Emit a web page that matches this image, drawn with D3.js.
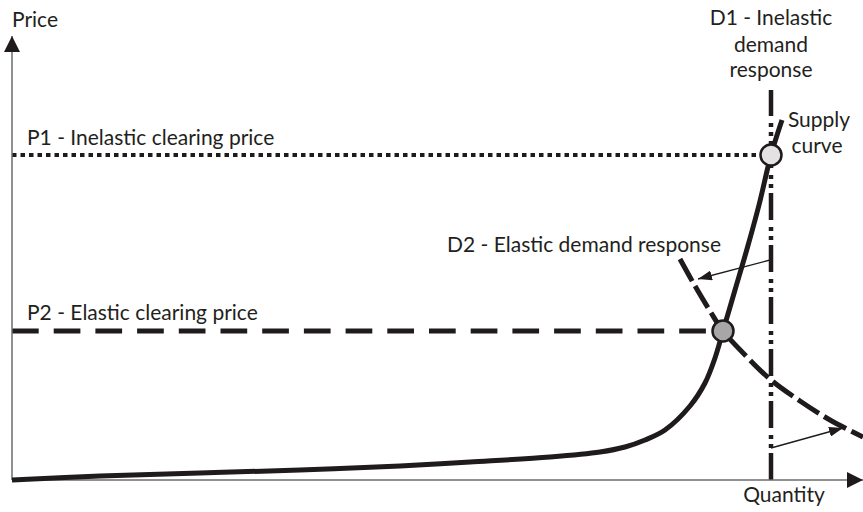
<!DOCTYPE html>
<html><head><meta charset="utf-8">
<script src="https://cdn.jsdelivr.net/npm/d3@7"></script>
<style>
body{margin:0;background:#fff}
svg{display:block}
text{font-family:Lato,"Open Sans",sans-serif;fill:#231f20}
</style>
</head><body>
<svg id="c" width="863" height="512"></svg>
<script>
// ---- data (arbitrary quantity / price units) ----
const quantityDomain = [0, 851];
const priceDomain = [0, 444];
const supplyQ = [0, 88, 188, 288, 388, 458, 538, 588, 613, 633, 653, 678, 693, 703, 711, 723, 735, 747, 759, 770];
const supplyP = [0, 4, 7, 10, 14, 18, 23, 28, 33, 40, 50, 74, 97, 122, 149, 190, 231, 275, 325, 360];
const elasticQ = [668, 683, 698, 711, 735, 759, 788, 818, 851];
const elasticP = [221, 194, 169, 149, 123, 100, 79, 60, 43];
const inelasticQ = [759, 759];
const inelasticP = [0, 390];
const clearingQ = [759, 711];   // P1, P2
const clearingP = [325, 149];   // P1, P2
const shiftFromQ = [758, 759];
const shiftFromP = [220, 32];
const shiftToQ = [686, 831];
const shiftToP = [201, 52];
const labels = ["Price", "Quantity", "P1 - Inelastic clearing price", "P2 - Elastic clearing price",
  "D2 - Elastic demand response", "D1 - Inelastic", "demand", "response", "Supply", "curve"];

// ---- drawing ----
const svg = d3.select("#c");
const x = d3.scaleLinear().domain(quantityDomain).range([12, 863]);
const y = d3.scaleLinear().domain(priceDomain).range([480, 36]);
const ink = "#1f1b1c";

const defs = svg.append("defs");
defs.append("marker").attr("id", "ah").attr("viewBox", "0 0 14 10").attr("refX", 14).attr("refY", 5)
  .attr("markerUnits", "userSpaceOnUse").attr("markerWidth", 14).attr("markerHeight", 10).attr("orient", "auto")
  .append("path").attr("d", "M0,0L14,5L0,10Z").attr("fill", ink);
defs.append("marker").attr("id", "axh").attr("viewBox", "0 0 16 16").attr("refX", 16).attr("refY", 8)
  .attr("markerUnits", "userSpaceOnUse").attr("markerWidth", 16).attr("markerHeight", 16).attr("orient", "auto")
  .append("path").attr("d", "M0,0L16,8L0,16Z").attr("fill", ink);

const line = d3.line().x(d => x(d[0])).y(d => y(d[1]));
const curve = d3.line().x(d => x(d[0])).y(d => y(d[1])).curve(d3.curveCatmullRom.alpha(0.5));

// D1 vertical (dash-dot)
svg.append("path").attr("d", line(d3.zip(inelasticQ, inelasticP)))
  .attr("fill", "none").attr("stroke", ink).attr("stroke-width", 4.5)
  .attr("stroke-dasharray", "27,5,4,5,4,7");

// P1 dotted
svg.append("path").attr("d", line([[0, clearingP[0]], [clearingQ[0], clearingP[0]]]))
  .attr("fill", "none").attr("stroke", ink).attr("stroke-width", 4)
  .attr("stroke-dasharray", "4.5,4");

// P2 dashed
svg.append("path").attr("d", line([[0, clearingP[1]], [clearingQ[1], clearingP[1]]]))
  .attr("fill", "none").attr("stroke", ink).attr("stroke-width", 5)
  .attr("stroke-dasharray", "26.7,15");

// D2 elastic demand (dashed curve)
svg.append("path").attr("d", curve(d3.zip(elasticQ, elasticP)))
  .attr("fill", "none").attr("stroke", ink).attr("stroke-width", 5)
  .attr("stroke-dasharray", "25,6");

// axes
svg.append("line").attr("x1", x(0)).attr("y1", y(0)).attr("x2", x(0)).attr("y2", y(priceDomain[1]))
  .attr("stroke", "#6d6d6d").attr("stroke-width", 1.5).attr("marker-end", "url(#axh)");
svg.append("line").attr("x1", x(0)).attr("y1", y(0)).attr("x2", x(quantityDomain[1])).attr("y2", y(0))
  .attr("stroke", "#6d6d6d").attr("stroke-width", 1.5).attr("marker-end", "url(#axh)");

// Supply curve
svg.append("path").attr("d", curve(d3.zip(supplyQ, supplyP)))
  .attr("fill", "none").attr("stroke", ink).attr("stroke-width", 5).attr("stroke-linecap", "butt");

// shift arrows
d3.range(shiftFromQ.length).forEach(i => {
  svg.append("line").attr("x1", x(shiftFromQ[i])).attr("y1", y(shiftFromP[i]))
    .attr("x2", x(shiftToQ[i])).attr("y2", y(shiftToP[i]))
    .attr("stroke", ink).attr("stroke-width", 1.3).attr("marker-end", "url(#ah)");
});

// clearing points
const fills = ["#e3e3e3", "#a7a7a7"];
d3.range(clearingQ.length).forEach(i => {
  svg.append("circle").attr("cx", x(clearingQ[i])).attr("cy", y(clearingP[i])).attr("r", 10.5)
    .attr("fill", fills[i]).attr("stroke", ink).attr("stroke-width", 2.5);
});

// labels
const fs = 21;
function label(t, px, py, anchor) {
  svg.append("text").attr("x", px).attr("y", py).attr("font-size", fs)
    .attr("text-anchor", anchor || "start").text(t);
}
label(labels[0], 12, 27);
label(labels[1], 784, 502, "middle");
label(labels[2], 27, 145);
label(labels[3], 27, 320);
label(labels[4], 721, 252, "end");
label(labels[5], 771, 25, "middle");
label(labels[6], 771, 52, "middle");
label(labels[7], 771, 77, "middle");
label(labels[8], 819, 127, "middle");
label(labels[9], 817, 153, "middle");
</script>
</body></html>
